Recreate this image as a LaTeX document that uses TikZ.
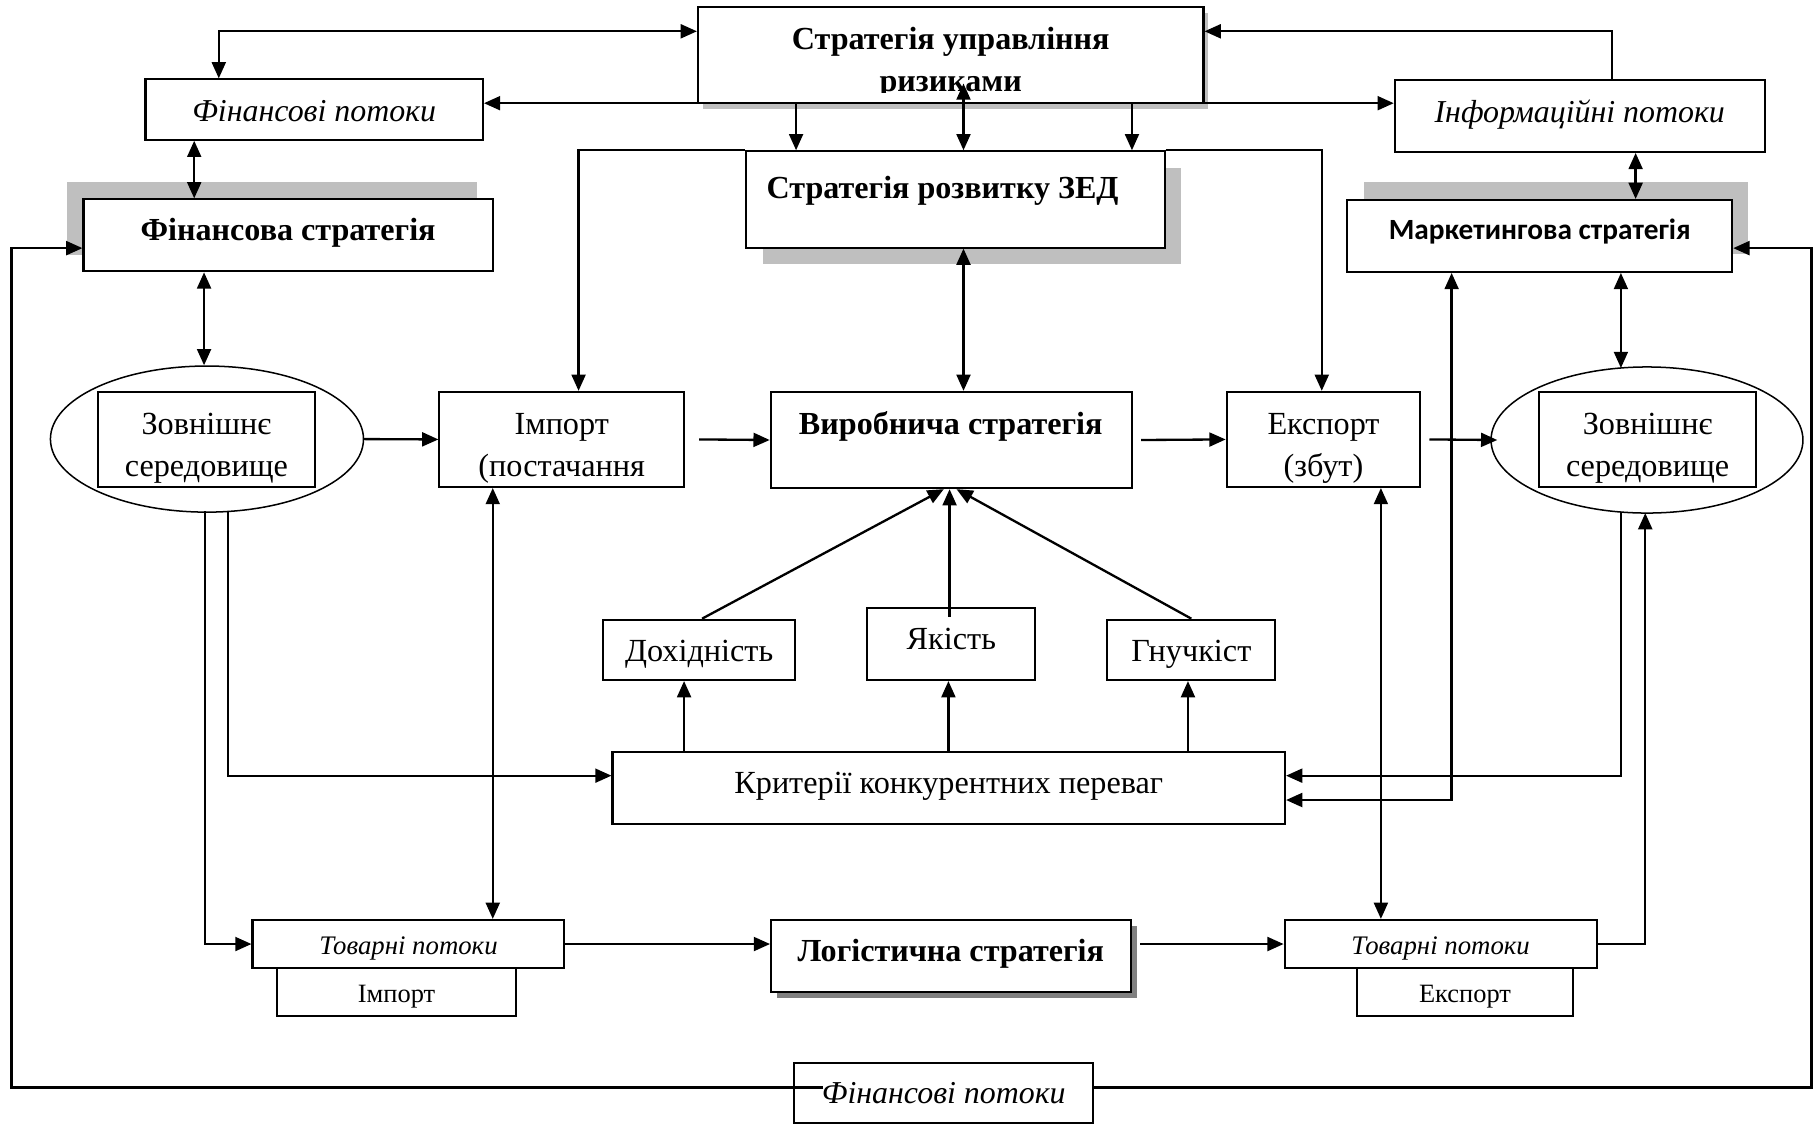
\documentclass[tikz,border=0pt]{standalone}
\usepackage{fontspec}
\setmainfont{Liberation Serif}
\newfontfamily\carlito{Carlito}
\usetikzlibrary{arrows.meta,shapes.geometric,calc}

\begin{document}
\begin{tikzpicture}[x=1pt,y=-1pt,
  box/.style={draw, line width=1.8pt, fill=white, inner sep=0pt},
  ell/.style={ellipse, draw, line width=1.3pt, fill=white, inner sep=0pt},
  plain/.style={inner sep=0pt, align=center},
  reg/.style={font=\fontsize{27.8}{36}\selectfont},
  bld/.style={font=\fontsize{27.7}{36}\selectfont\bfseries},
  itl/.style={font=\fontsize{27.5}{32}\selectfont\itshape},
  smi/.style={font=\fontsize{23.1}{26}\selectfont\itshape},
  sm/.style={font=\fontsize{22.8}{26}\selectfont},
  mkt/.style={font=\fontsize{25.3}{28}\selectfont\carlito\bfseries},
  shade/.style={fill=black!25, draw=none},
  darkshade/.style={fill=black!50, draw=none},
  con/.style={line width=2pt},
  tip/.tip={Triangle[length=14pt,width=12pt]},
  arr/.style={con, -tip},
  dbl/.style={con, tip-tip},
]
\useasboundingbox (0,0) rectangle (1568,969);

% shadows behind the strategy boxes
\fill[shade] (606,11) rectangle (1042,94);
\fill[shade] (658,145) rectangle (1019,228);
\fill[shade] (58,157) rectangle (411,220);
\fill[shade] (1176,157) rectangle (1508,219);
\fill[darkshade] (670,799) rectangle (981,861);

% top level
\node[box, minimum width=436pt, minimum height=83pt] (R) at (820,47.5) {};
\begin{scope}
  \clip (602,6) rectangle (1038,80);
  \node[plain, bld] (Rt) at (820,54) {Стратегія управління\\ризиками};
\end{scope}
\node[box, minimum width=291pt, minimum height=52pt] (FP1) at (271,94.5) {};
\node[plain, itl] (FP1t) at (271,95.5) {Фінансові потоки};
\node[box, minimum width=319pt, minimum height=62pt] (IP) at (1362.5,100) {};
\node[plain, itl] (IPt) at (1362.5,99) {Інформаційні потоки};

% second level
\node[box, minimum width=361pt, minimum height=83pt] (ZED) at (824,172) {};
\node[plain, bld] (ZEDt) at (813,165) {Стратегія розвитку ЗЕД};
\node[box, minimum width=353pt, minimum height=62pt] (FS) at (248.5,203) {};
\node[plain, bld] (FSt) at (248.5,201) {Фінансова стратегія};
\node[box, minimum width=332pt, minimum height=62pt] (MS) at (1328,203.5) {};
\node[plain, mkt] (MSt) at (1328,199.5) {Маркетингова стратегія};

% main chain
\node[ell, minimum width=270pt, minimum height=126pt] (ZovLe) at (178.5,378.7) {};
\node[box, minimum width=187pt, minimum height=82pt] (ZovL) at (178,379) {};
\node[plain, reg] (ZovLt) at (178,386.5) {Зовнішнє\\середовище};
\node[box, minimum width=211pt, minimum height=82pt] (Imp) at (484.5,379) {};
\node[plain, reg] (Impt) at (484.5,386.5) {Імпорт\\(постачання};
\node[box, minimum width=311.5pt, minimum height=83pt] (Vyr) at (820.5,379.5) {};
\node[plain, bld] (Vyrt) at (820,368) {Виробнича стратегія};
\node[box, minimum width=167pt, minimum height=82pt] (Exp) at (1141.5,379) {};
\node[plain, reg] (Expt) at (1141.5,386.5) {Експорт\\(збут)};
\node[ell, minimum width=269pt, minimum height=126pt] (ZovRe) at (1420.5,379.5) {};
\node[box, minimum width=187pt, minimum height=82pt] (ZovR) at (1421,379) {};
\node[plain, reg] (ZovRt) at (1421,386.5) {Зовнішнє\\середовище};

% competitive criteria
\node[box, minimum width=166pt, minimum height=52pt] (Dox) at (603,560.5) {};
\node[plain, reg] (Doxt) at (603,564) {Дохідність};
\node[box, minimum width=145pt, minimum height=62pt] (Yak) at (820.5,555.5) {};
\node[plain, reg] (Yakt) at (820.5,551) {Якість};
\node[box, minimum width=145pt, minimum height=52pt] (Gn) at (1027.5,560.5) {};
\node[plain, reg] (Gnt) at (1027.5,564) {Гнучкіст};
\node[box, minimum width=580pt, minimum height=62.5pt] (Krit) at (818.3,679.8) {};
\node[plain, reg] (Kritt) at (818.3,678) {Критерії конкурентних переваг};

% goods flows and logistics
\node[box, minimum width=206pt, minimum height=41.5pt] (TPiS) at (342,855.7) {};
\node[plain, sm] (TPiSt) at (342,859.7) {Імпорт};
\node[box, minimum width=269pt, minimum height=41.5pt] (TPi) at (352.3,814.2) {};
\node[plain, smi] (TPit) at (352.3,818) {Товарні потоки};
\node[box, minimum width=310.5pt, minimum height=62pt] (Log) at (820.3,824.6) {};
\node[plain, bld] (Logt) at (820,823) {Логістична стратегія};
\node[box, minimum width=187pt, minimum height=41.5pt] (TPeS) at (1263.5,855.7) {};
\node[plain, sm] (TPeSt) at (1263.5,859.7) {Експорт};
\node[box, minimum width=269pt, minimum height=41.5pt] (TPe) at (1242.5,814.2) {};
\node[plain, smi] (TPet) at (1242.5,818) {Товарні потоки};
\node[box, minimum width=258pt, minimum height=52pt] (FP2) at (814,943) {};
\node[plain, itl] (FP2t) at (814,943) {Фінансові потоки};

% links around the risk strategy
\draw[dbl] (FP1.north -| 188.7,0) |- (R.west |- 0,27);
\draw[arr] (IP.north -| 1390.6,0) |- (R.east |- 0,27);
\draw[dbl] (FP1.east |- 0,89) -- (IP.west |- 0,89);
\draw[arr] (R.south -| 686.6,0) -- (ZED.north -| 686.6,0);
\coordinate (Rin) at (831,72);
\draw[dbl] (Rin) -- (ZED.north -| Rin);
\draw[arr] (R.south -| 976.3,0) -- (ZED.north -| 976.3,0);
\draw[arr] (ZED.north west) -| (Imp.north -| 499,0);
\draw[arr] (ZED.north east) -| (Exp.north -| 1140,0);

% vertical links
\draw[dbl] (FP1.south -| 167.5,0) -- (FS.north -| 167.5,0);
\draw[dbl] (IP.south -| 1410.7,0) -- (MS.north -| 1410.7,0);
\draw[dbl] (FS.south -| 176,0) -- (ZovLe.north -| 176,0);
\draw[dbl] (MS.south -| 1398,0) -- (1398,317.4);
\draw[dbl] (ZED.south -| Rin) -- (Vyr.north -| Rin);

% main chain arrows
\draw[arr] (ZovLe.east) -- (Imp.west);
\draw[arr] ($(Imp.east)+(12,0)$) -- (Vyr.west);
\draw[arr] ($(Vyr.east)+(7,0)$) -- (Exp.west);
\draw[arr] ($(Exp.east)+(7,0)$) -- ($(ZovRe.west)+(6,0)$);

% criteria feeding production strategy
\draw[arr] (Dox.north -| 605.5,0) -- (Vyr.south -| 814,0);
\coordinate (YakIn) at (819,532);
\draw[arr] (YakIn) -- (Vyr.south -| YakIn);
\draw[arr] (Gn.north) -- (Vyr.south -| 825,0);
\draw[arr] (Krit.north -| 590,0) -- (Dox.south -| 590,0);
\draw[arr] (Krit.north -| 818,0) -- (Yak.south -| 818,0);
\draw[arr] (Krit.north -| 1024.6,0) -- (Gn.south -| 1024.6,0);

% external environment links
\coordinate (ZL1) at (176.6,441);
\coordinate (ZL2) at (196.5,441);
\coordinate (ZR1) at (1398,441.6);
\coordinate (ZR2) at (1419,442.5);
\draw[arr] (ZL2) |- (Krit.west |- 0,669);
\draw[arr] (ZL1) |- (TPi.west);
\draw[dbl] (Imp.south -| 425,0) -- (TPi.north -| 425,0);
\draw[arr] (ZR1) |- (Krit.east |- 0,669);
\draw[dbl] (MS.south -| 1252,0) |- (Krit.east |- 0,690);
\draw[dbl] (Exp.south -| 1191,0) -- (TPe.north -| 1191,0);
\draw[arr] (TPe.east) -| (ZR2);

% logistics chain
\draw[arr] (TPi.east) -- (Log.west |- TPi.east);
\draw[arr] ($(Log.east |- TPe.west)+(7,0)$) -- (TPe.west);

% financial flows loop
\coordinate (FPin) at (710,938);
\draw[arr] (FPin) -| (10,214) -- (FS.west |- 0,214);
\draw[arr] (FP2.east |- 0,938) -| (1562.5,214) -- (MS.east |- 0,214);
\end{tikzpicture}
\end{document}
